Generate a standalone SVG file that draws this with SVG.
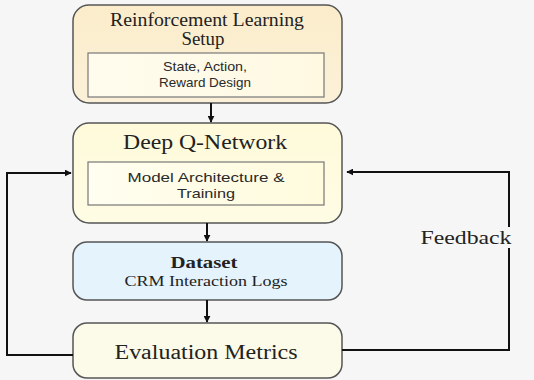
<svg xmlns="http://www.w3.org/2000/svg" width="534" height="380" viewBox="0 0 534 380">
<defs>
<linearGradient id="gTop" x1="0" y1="0" x2="0" y2="1"><stop offset="0" stop-color="#FBEDCB"/><stop offset="1" stop-color="#FBF1D8"/></linearGradient>
<linearGradient id="gInner1" x1="0" y1="0" x2="1" y2="0"><stop offset="0" stop-color="#FFFCEE"/><stop offset="1" stop-color="#FFF9E2"/></linearGradient>
<linearGradient id="gDqn" x1="0" y1="0" x2="0" y2="1"><stop offset="0" stop-color="#FEFADA"/><stop offset="1" stop-color="#FEFCE4"/></linearGradient>
<linearGradient id="gInner2" x1="0" y1="0" x2="1" y2="0"><stop offset="0" stop-color="#FFFEF0"/><stop offset="1" stop-color="#FFFBDD"/></linearGradient>
<marker id="ah" viewBox="0 0 10 10" refX="9" refY="5" markerWidth="7" markerHeight="7" markerUnits="userSpaceOnUse" orient="auto"><path d="M0,0 L10,5 L0,10 z" fill="#111"/></marker>
</defs>
<style>
.box{stroke:#555;stroke-width:1.5}
.inner{stroke:#777;stroke-width:1.2}
.serif{font-family:"Liberation Serif","Times New Roman",serif;fill:#222;text-anchor:middle}
.sans{font-family:"Liberation Sans",Arial,sans-serif;fill:#2a2a2a;text-anchor:middle;font-size:13px}
.conn{fill:none;stroke:#111;stroke-width:2}
</style>
<rect width="534" height="380" fill="#F6F6F6"/>
<g id="rl-setup">
<rect class="box" x="73" y="5" width="269" height="98" rx="16" fill="url(#gTop)"/>
<text class="serif" x="207" y="26" font-size="18" textLength="194" lengthAdjust="spacingAndGlyphs">Reinforcement Learning</text>
<text class="serif" x="203" y="45" font-size="18" textLength="43" lengthAdjust="spacingAndGlyphs">Setup</text>
<rect class="inner" x="88" y="53" width="236" height="44" fill="url(#gInner1)"/>
<text class="sans" x="205" y="71" textLength="84" lengthAdjust="spacingAndGlyphs">State, Action,</text>
<text class="sans" x="205" y="87" textLength="92" lengthAdjust="spacingAndGlyphs">Reward Design</text>
</g>
<g id="dqn">
<rect class="box" x="73" y="123" width="269" height="100" rx="16" fill="url(#gDqn)"/>
<text class="serif" x="205" y="149" font-size="20" textLength="164" lengthAdjust="spacingAndGlyphs">Deep Q-Network</text>
<rect class="inner" x="88" y="162" width="236" height="43" fill="url(#gInner2)"/>
<text class="sans" x="206" y="182" textLength="157" lengthAdjust="spacingAndGlyphs">Model Architecture &amp;</text>
<text class="sans" x="206" y="198" textLength="58" lengthAdjust="spacingAndGlyphs">Training</text>
</g>
<g id="dataset">
<rect class="box" x="73" y="242" width="269" height="58" rx="14" fill="#E4F3FC"/>
<text class="serif" x="204" y="268" font-size="17" font-weight="bold" textLength="67" lengthAdjust="spacingAndGlyphs">Dataset</text>
<text class="serif" x="206" y="286" font-size="15" textLength="163" lengthAdjust="spacingAndGlyphs">CRM Interaction Logs</text>
</g>
<g id="evaluation">
<rect class="box" x="73" y="323" width="269" height="55" rx="14" fill="#FCFAE8"/>
<text class="serif" x="206" y="359" font-size="20" textLength="183" lengthAdjust="spacingAndGlyphs">Evaluation Metrics</text>
</g>
<g id="connectors">
<line class="conn" x1="211" y1="103" x2="211" y2="122" marker-end="url(#ah)"/>
<line class="conn" x1="207" y1="223" x2="207" y2="241" marker-end="url(#ah)"/>
<line class="conn" x1="207" y1="300" x2="207" y2="322" marker-end="url(#ah)"/>
<path class="conn" d="M73,355 H7 V173 H71" marker-end="url(#ah)"/>
<path class="conn" d="M342,350 H509 V248"/>
<path class="conn" d="M509,227 V172 H347" marker-end="url(#ah)"/>
<text class="serif" x="466" y="244" font-size="18" textLength="91" lengthAdjust="spacingAndGlyphs">Feedback</text>
</g>
</svg>
